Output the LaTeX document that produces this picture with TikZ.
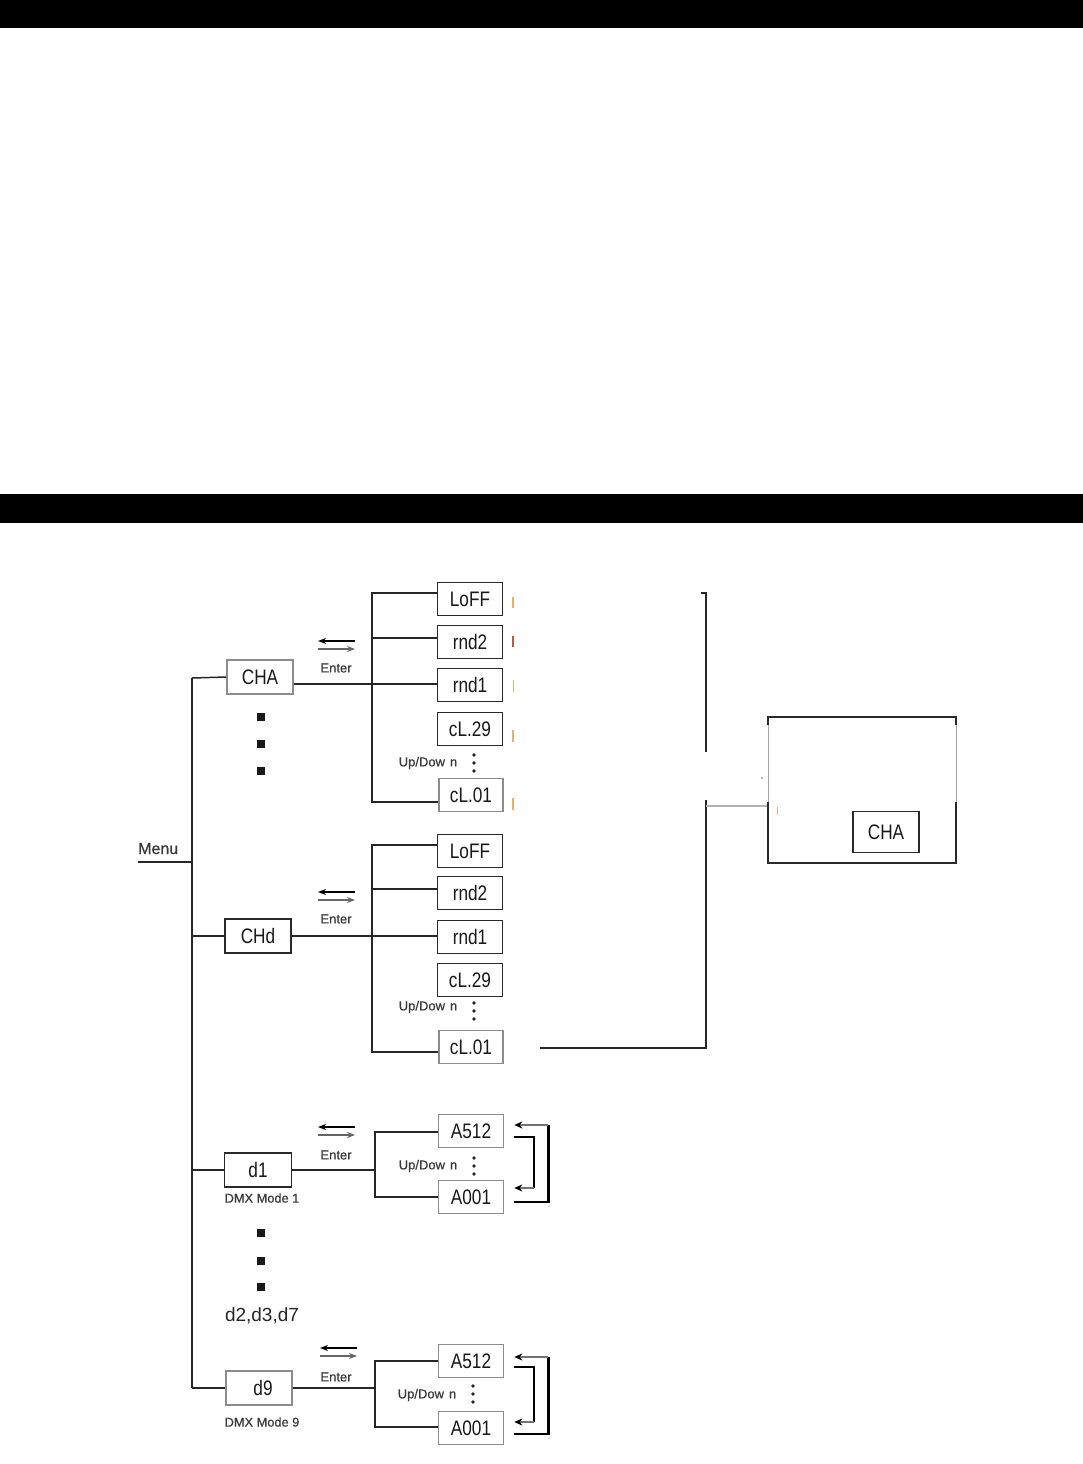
\documentclass[tikz,border=0pt]{standalone}
\usepackage{fontspec}
\setmainfont{Liberation Sans}
\newfontfamily\boxfont[FakeStretch=0.82]{Liberation Sans}
\newfontfamily\lblfont[FakeBold=0.6]{Liberation Sans}
\usetikzlibrary{arrows.meta}
\definecolor{boxc}{HTML}{2A2A2A}
\definecolor{boxg}{HTML}{8C8C8C}
\definecolor{linec}{HTML}{262626}
\definecolor{labc}{HTML}{3A3A3A}
\definecolor{tickor}{HTML}{E8B070}
\definecolor{tickbr}{HTML}{B0603A}
\tikzset{
  disp/.style={draw=boxc, line width=1.6pt, minimum width=65pt, minimum height=33pt, inner sep=0pt, text=black!90, font=\boxfont\fontsize{21}{21}\selectfont},
  dispg/.style={disp, draw=boxg},
  conn/.style={line width=1.5pt, draw=linec},
  lbl/.style={inner sep=0pt, text=labc, font=\lblfont\fontsize{13}{13}\selectfont},
  bigl/.style={inner sep=0pt, text=black!85, font=\fontsize{19}{19}\selectfont},
  sq/.style={fill=black!90, minimum size=7.5pt, inner sep=0pt},
  loopk/.style={line width=2.6pt, draw=black},
  looparr/.style={line width=1.4pt, draw=black!55, -{Stealth[length=8pt,width=7pt,color=black]}},
  enterarr/.style={line width=1.3pt, -{Stealth[length=8pt,width=6pt]}},
  entericon/.pic={
    \draw[enterarr, draw=black] (37,0) -- (0,0);
    \draw[enterarr, draw=black!60] (0,8) -- (37,8);
  },
  vdotsthree/.pic={
    \fill[black!85] (0,-8) circle (1.9pt);
    \fill[black!85] (0,0) circle (1.9pt);
    \fill[black!85] (0,8) circle (1.9pt);
  },
  tick/.style={line width=1.3pt, draw=tickor},
}
\newcommand\updown{Up/Dow\hspace{5pt}n}
\begin{document}
\begin{tikzpicture}[x=1pt,y=-1pt]
\useasboundingbox (0,0) rectangle (1083,1464);
\fill[white] (0,0) rectangle (1083,1464);
% header bars
\fill[black] (0,0) rectangle (1083,28);
\fill[black] (0,494) rectangle (1083,523);

% Menu and trunk
\node[lbl, font=\lblfont\fontsize{16}{16}\selectfont, anchor=base west] (menu) at (138,854) {Menu};
\coordinate (menuL) at (138,862);
\coordinate (menuJ) at (192,862);
\draw[conn] (menuL) -- (menuJ);
\coordinate (trTop) at (192,678);
\coordinate (trBot) at (192,1388);
\draw[conn] (trTop) -- (trBot);

% ---------- CHA section ----------
\node[dispg, minimum width=66pt, minimum height=34pt] (cha) at (260,677) {CHA};
\draw[conn] (trTop) -- (cha.west);
\node[disp] (loffa) at (470,599) {LoFF};
\node[disp] (rnd2a) at (470,642) {rnd2};
\node[disp] (rnd1a) at (470,685) {rnd1};
\node[disp] (cl29a) at (470,729) {cL.29};
\node[dispg, minimum width=64pt] (cl01a) at (471,795) {cL.01};
\coordinate (ja1) at (372,593);
\coordinate (ja2) at (372,638);
\coordinate (ja3) at (372,684);
\coordinate (ja5) at (372,802);
\draw[conn] (cha.east |- ja3) -- (ja3 -| rnd1a.west);
\draw[conn] (ja1 -| loffa.west) -- (ja1) -- (ja5) -- (ja5 -| cl01a.west);
\draw[conn] (ja2) -- (ja2 -| rnd2a.west);
\pic at (318,641) {entericon};
\node[lbl] (entera) at (336,668) {Enter};
\node[lbl] (upa) at (428,763) {\updown};
\pic at (474,763) {vdotsthree};
\node[sq] (sa1) at (261,717) {};
\node[sq] (sa2) at (261,744) {};
\node[sq] (sa3) at (261,771) {};
% clipped marks
\draw[tick] (513,597) -- (513,608);
\draw[tick, line width=2pt, draw=tickbr] (513,636) -- (513,647);
\draw[tick, line width=0.8pt] (513,680) -- (513,692);
\draw[tick, line width=1.8pt] (513,730) -- (513,742);
\draw[tick, line width=1.8pt] (513,798) -- (513,810);

% ---------- CHd section ----------
\node[disp, minimum width=66pt, minimum height=34pt] (chd) at (258,936) {CHd};
\draw[conn] (chd.west -| trTop) -- (chd.west);
\node[disp] (loffb) at (470,851) {LoFF};
\node[disp] (rnd2b) at (470,893) {rnd2};
\node[disp] (rnd1b) at (470,937) {rnd1};
\node[disp] (cl29b) at (470,980) {cL.29};
\node[dispg, minimum width=64pt] (cl01b) at (471,1047) {cL.01};
\coordinate (jb1) at (372,845);
\coordinate (jb2) at (372,889);
\coordinate (jb5) at (372,1052);
\draw[conn] (chd.east) -- (chd.east -| rnd1b.west);
\draw[conn] (jb1 -| loffb.west) -- (jb1) -- (jb5) -- (jb5 -| cl01b.west);
\draw[conn] (jb2) -- (jb2 -| rnd2b.west);
\pic at (318,892) {entericon};
\node[lbl] (enterb) at (336,919) {Enter};
\node[lbl] (upb) at (428,1007) {\updown};
\pic at (474,1011) {vdotsthree};

% ---------- right bracket and box ----------
\coordinate (brA) at (701,593);
\coordinate (brB) at (706,593);
\coordinate (brC) at (706,752);
\coordinate (brD) at (706,800);
\coordinate (brE) at (706,1048);
\coordinate (clout) at (540,1048);
\coordinate (brG) at (706,806);
\coordinate (boxG) at (768,806);
\draw[conn] (brA) -- (brB) -- (brC);
\draw[conn] (clout) -- (brE) -- (brD);
\draw[line width=2.6pt, draw=black!30] (brG) -- (boxG);
\coordinate (rb1) at (768,717);
\coordinate (rb2) at (956,717);
\coordinate (rb3) at (956,863);
\coordinate (rb4) at (768,863);
\draw[line width=1.6pt, draw=boxc] (768,725) -- (rb1) -- (rb2) -- (956,725);
\draw[line width=0.6pt, draw=black!35] (768,725) -- (768,802);
\draw[line width=0.6pt, draw=black!35] (956,725) -- (956,802);
\draw[line width=1.6pt, draw=boxc] (768,802) -- (rb4) -- (rb3) -- (956,802);
\node[disp, minimum width=66pt, minimum height=41pt] (chaR) at (886,832) {CHA};
\fill[blue!50!black!60] (762,778) circle (0.8pt);
\draw[line width=0.6pt, draw=tickor] (777,807) -- (777,815);

% ---------- d1 section ----------
\node[disp, minimum width=67pt, minimum height=34pt] (d1) at (258,1170) {d1};
\node[lbl, font=\lblfont\fontsize{12.8}{13}\selectfont] (dmx1) at (262,1198) {DMX Mode 1};
\draw[conn] (d1.west -| trTop) -- (d1.west);
\node[dispg] (a512a) at (471,1131) {A512};
\node[dispg] (a001a) at (471,1197) {A001};
\coordinate (jc1) at (375,1132);
\coordinate (jc2) at (375,1197);
\draw[conn] (d1.east) -- (d1.east -| jc1);
\draw[conn] (jc1 -| a512a.west) -- (jc1) -- (jc2) -- (jc2 -| a001a.west);
\pic at (318,1127) {entericon};
\node[lbl] (enterc) at (336,1155) {Enter};
\node[lbl] (upc) at (428,1166) {\updown};
\pic at (474,1166) {vdotsthree};
\draw[loopk] ([xshift=10pt,yshift=-5pt]a001a.east) -| ([xshift=44pt,yshift=6pt]a512a.east);
\draw[looparr] ([xshift=44pt,yshift=6pt]a512a.east) -- ([xshift=10pt,yshift=6pt]a512a.east);
\draw[loopk, line width=2.2pt] ([xshift=10pt,yshift=-6pt]a512a.east) -| ([xshift=30pt,yshift=9pt]a001a.east);
\draw[looparr] ([xshift=30pt,yshift=9pt]a001a.east) -- ([xshift=10pt,yshift=9pt]a001a.east);

\node[sq] (sc1) at (261,1233) {};
\node[sq] (sc2) at (261,1261) {};
\node[sq] (sc3) at (261,1287) {};
\node[bigl] (dmore) at (262,1316) {d2,d3,d7};

% ---------- d9 section ----------
\node[dispg, minimum width=66pt, minimum height=34pt] (d9) at (259,1388) {\hspace{8pt}d9};
\node[lbl, font=\lblfont\fontsize{12.8}{13}\selectfont] (dmx9) at (262,1422) {DMX Mode 9};
\draw[conn] (trBot) -- (d9.west);
\node[dispg] (a512b) at (471,1361) {A512};
\node[dispg] (a001b) at (471,1428) {A001};
\coordinate (jd1) at (375,1361);
\coordinate (jd2) at (375,1427);
\draw[conn] (d9.east) -- (d9.east -| jd1);
\draw[conn] (jd1 -| a512b.west) -- (jd1) -- (jd2) -- (jd2 -| a001b.west);
\pic at (320,1348) {entericon};
\node[lbl] (enterd) at (336,1377) {Enter};
\node[lbl] (upd) at (427,1395) {\updown};
\pic at (473,1394) {vdotsthree};
\draw[loopk] ([xshift=10pt,yshift=-6pt]a001b.east) -| ([xshift=44pt,yshift=4pt]a512b.east);
\draw[looparr] ([xshift=44pt,yshift=4pt]a512b.east) -- ([xshift=10pt,yshift=4pt]a512b.east);
\draw[loopk, line width=2.2pt] ([xshift=10pt,yshift=-6pt]a512b.east) -| ([xshift=30pt,yshift=6pt]a001b.east);
\draw[looparr] ([xshift=30pt,yshift=6pt]a001b.east) -- ([xshift=10pt,yshift=6pt]a001b.east);
\end{tikzpicture}
\end{document}
